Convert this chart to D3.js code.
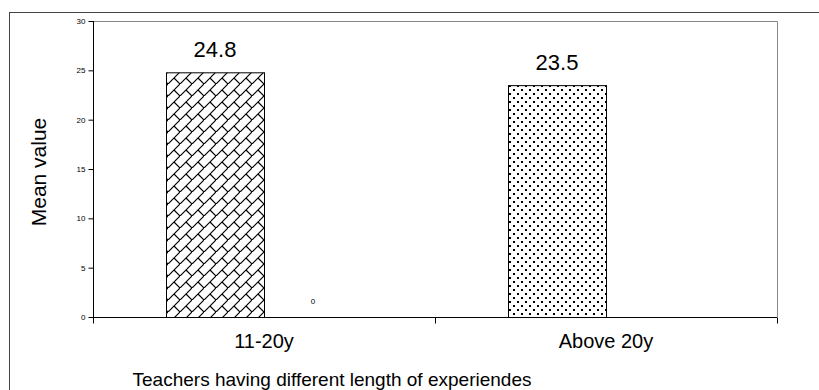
<!DOCTYPE html>
<html>
<head>
<meta charset="utf-8">
<script src="https://cdn.jsdelivr.net/npm/d3@7/dist/d3.min.js"></script>
<style>
  body { margin: 0; background: #fff; }
  svg { font-family: "Liberation Sans", Arial, sans-serif; }
</style>
</head>
<body>
<svg id="vis" width="819" height="390"></svg>
<script>
// data
var categories = ["11-20y", "Above 20y"];
var seriesNames = ["first", "second"];
var firstValues = [24.8, 23.5];
var secondValues = [0, null];
var fills = ["brick", "dots"];
var yTicks = [0, 5, 10, 15, 20, 25, 30];

var w = 819, h = 390;
var plotLeft = 93, plotRight = 777, plotTop = 21, plotBottom = 317;

var svg = d3.select("#vis");

// patterns like the old excel fills
var defs = svg.append("defs");
var brick = defs.append("pattern")
    .attr("id", "brick")
    .attr("patternUnits", "userSpaceOnUse")
    .attr("width", 12).attr("height", 12);
brick.append("rect").attr("width", 12).attr("height", 12).attr("fill", "#fff");
brick.append("path")
    .attr("d", "M-1,13 L13,-1 M6,6 L12,12")
    .attr("stroke", "#000").attr("stroke-width", 1.2).attr("fill", "none");

var dots = defs.append("pattern")
    .attr("id", "dots")
    .attr("patternUnits", "userSpaceOnUse")
    .attr("width", 8).attr("height", 8);
dots.append("rect").attr("width", 8).attr("height", 8).attr("fill", "#fff");
dots.append("rect").attr("x", 1).attr("y", 1).attr("width", 2).attr("height", 2).attr("fill", "#000");
dots.append("rect").attr("x", 5).attr("y", 5).attr("width", 2).attr("height", 2).attr("fill", "#000");

// outer frame (runs off the right and bottom)
svg.append("rect")
    .attr("x", 9.5).attr("y", 12.5)
    .attr("width", 900).attr("height", 500)
    .attr("fill", "none").attr("stroke", "#444");

var xScale = d3.scaleBand()
    .domain(categories)
    .range([plotLeft, plotRight]);

var slot = d3.scaleBand()
    .domain(seriesNames)
    .range([0, xScale.bandwidth()])
    .paddingOuter(0.745);

var yScale = d3.scaleLinear()
    .domain([0, 30])
    .range([plotBottom, plotTop]);

// plot area border top/right
svg.append("path")
    .attr("d", "M" + plotLeft + "," + (plotTop + 0.5) + "H" + (plotRight + 0.5) + "V" + plotBottom)
    .attr("fill", "none").attr("stroke", "#888");

var rows = categories.map(function(c, i) {
    return {cat: c, first: firstValues[i], second: secondValues[i], fill: fills[i]};
});

svg.selectAll("rect.bar")
    .data(rows)
    .enter()
    .append("rect")
    .attr("class", "bar")
    .attr("x", function(d) { return xScale(d.cat) + slot("first") + 0.5; })
    .attr("y", function(d) { return yScale(d.first) + 0.5; })
    .attr("width", slot.bandwidth())
    .attr("height", function(d) { return yScale(0) - yScale(d.first); })
    .attr("fill", function(d) { return "url(#" + d.fill + ")"; })
    .attr("stroke", "#000");

svg.selectAll("text.val")
    .data(rows)
    .enter()
    .append("text")
    .attr("class", "val")
    .attr("x", function(d) { return xScale(d.cat) + slot("first") + slot.bandwidth() / 2; })
    .attr("y", function(d) { return yScale(d.first) - 15; })
    .attr("text-anchor", "middle")
    .attr("fill", "#000")
    .style("font-size", "22px")
    .text(function(d) { return d.first; });

// second series: only a zero label
svg.selectAll("text.val2")
    .data(rows.filter(function(d) { return d.second !== null; }))
    .enter()
    .append("text")
    .attr("class", "val2")
    .attr("x", function(d) { return xScale(d.cat) + slot("second") + slot.bandwidth() / 2; })
    .attr("y", function(d) { return yScale(d.second) - 13; })
    .attr("text-anchor", "middle")
    .attr("fill", "#000")
    .style("font-size", "8px")
    .text(function(d) { return d.second; });

// axes
var yAxis = d3.axisLeft(yScale)
    .tickValues(yTicks)
    .tickSize(5)
    .tickPadding(3);
var gy = svg.append("g")
    .attr("transform", "translate(" + (plotLeft + 0.5) + ",0)")
    .call(yAxis);
gy.select(".domain").attr("d", "M0," + plotTop + "V" + (plotBottom + 6));
gy.selectAll("text").style("font-size", "8px").attr("fill", "#000");

var xAxis = d3.axisBottom(xScale).tickSize(0).tickFormat("");
var gx = svg.append("g")
    .attr("transform", "translate(0," + (plotBottom + 0.5) + ")")
    .call(xAxis);
gx.select(".domain").attr("d", "M" + plotLeft + ",0H" + plotRight);
gx.selectAll(".tick").remove();
gx.selectAll("line.sep")
    .data([plotLeft, plotLeft + xScale.step(), plotRight])
    .enter()
    .append("line")
    .attr("class", "sep")
    .attr("x1", function(d) { return d + 0.5; })
    .attr("x2", function(d) { return d + 0.5; })
    .attr("y1", 0).attr("y2", 6)
    .attr("stroke", "#000");

svg.selectAll("text.cat")
    .data(categories)
    .enter()
    .append("text")
    .attr("class", "cat")
    .attr("x", function(d) { return xScale(d) + xScale.bandwidth() / 2; })
    .attr("y", 348)
    .attr("text-anchor", "middle")
    .style("font-size", "20px")
    .text(function(d) { return d; });

svg.append("text")
    .attr("x", 332)
    .attr("y", 386)
    .attr("text-anchor", "middle")
    .style("font-size", "19px")
    .text("Teachers having different length of experiendes");

svg.append("text")
    .attr("transform", "translate(46,172) rotate(-90)")
    .attr("text-anchor", "middle")
    .style("font-size", "21px")
    .text("Mean value");
</script>
</body>
</html>
